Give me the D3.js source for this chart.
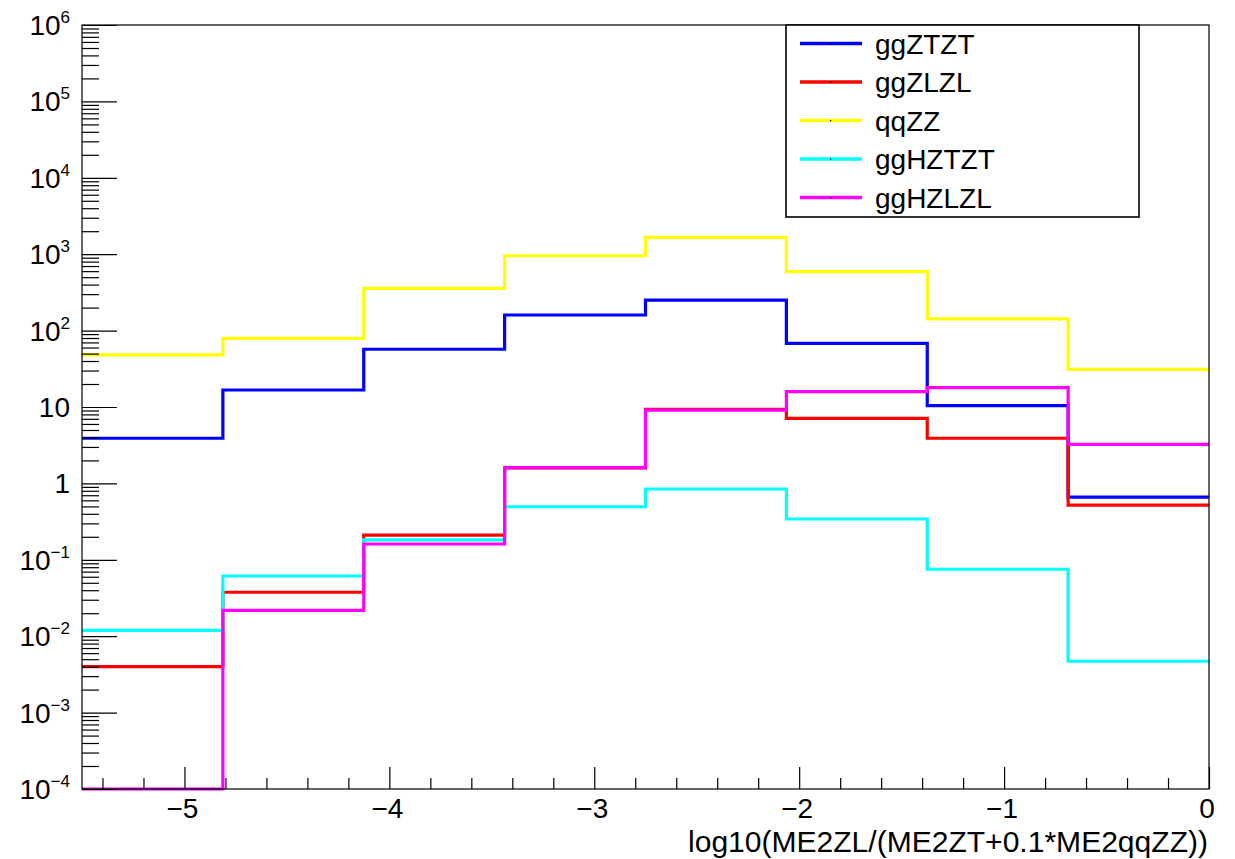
<!DOCTYPE html>
<html>
<head>
<meta charset="utf-8">
<script src="https://cdn.jsdelivr.net/npm/d3@7"></script>
<style>
  html, body { margin: 0; padding: 0; background: #fff; }
  svg { display: block; font-family: "Liberation Sans", Arial, Helvetica, sans-serif; }
</style>
</head>
<body>
<svg id="chart" width="1235" height="859"></svg>
<script>
// Bin edges of the log10(ME2ZL/(ME2ZT+0.1*ME2qqZZ)) histogram
const binEdges = [-5.5, -4.8125, -4.125, -3.4375, -2.75, -2.0625, -1.375, -0.6875, 0];

// Bin contents per sample (events per bin)
const ggZTZT  = [3.9, 16.7, 57, 160, 250, 68, 10.4, 0.66];
const ggZLZL  = [0.0040, 0.0376, 0.211, 1.59, 9.3, 7.1, 3.9, 0.52];
const qqZZ    = [48, 79, 358, 955, 1660, 590, 142, 31];
const ggHZTZT = [0.0119, 0.0614, 0.182, 0.495, 0.845, 0.342, 0.0752, 0.0047];
const ggHZLZL = [0, 0.0218, 0.161, 1.61, 9.1, 15.9, 17.9, 3.25];

const seriesNames  = ["ggZTZT", "ggZLZL", "qqZZ", "ggHZTZT", "ggHZLZL"];
const seriesValues = [ggZTZT, ggZLZL, qqZZ, ggHZTZT, ggHZLZL];
const seriesColors = ["#0000ff", "#ff0000", "#ffff00", "#00ffff", "#ff00ff"];

// Axis ticks and labels
const xMajorTicks  = [-5, -4, -3, -2, -1, 0];
const xTickLabels  = ["\u22125", "\u22124", "\u22123", "\u22122", "\u22121", "0"];
const yMajorTicks  = [1e-4, 1e-3, 1e-2, 1e-1, 1, 10, 1e2, 1e3, 1e4, 1e5, 1e6];
const yTickBase    = ["10", "10", "10", "10", "1", "10", "10", "10", "10", "10", "10"];
const yTickExp     = ["\u22124", "\u22123", "\u22122", "\u22121", "", "", "2", "3", "4", "5", "6"];
const xTitle = "log10(ME2ZL/(ME2ZT+0.1*ME2qqZZ))";

const frame = { left: 82, right: 1209, top: 25, bottom: 789 };
const yMin = 1e-4, yMax = 1e6;

const svg = d3.select("#chart");
svg.append("rect").attr("width", 1235).attr("height", 859).attr("fill", "#fff");

const x = d3.scaleLinear().domain([binEdges[0], binEdges[binEdges.length - 1]])
  .range([frame.left, frame.right]);
const y = d3.scaleLog().domain([yMin, yMax]).range([frame.bottom, frame.top]);

// Histogram outlines (step lines); empty or underflowing bins sit on the frame floor
const stepLine = d3.line()
  .x(d => x(d.edge))
  .y(d => y(Math.max(d.value, yMin)))
  .curve(d3.curveStepAfter);

const plot = svg.append("g");
seriesValues.forEach((vals, i) => {
  const pts = binEdges.map((e, k) => ({ edge: e, value: vals[Math.min(k, vals.length - 1)] }));
  plot.append("path")
    .attr("d", stepLine(pts))
    .attr("fill", "none")
    .attr("stroke", seriesColors[i])
    .attr("stroke-width", 3.2)
    .attr("stroke-linejoin", "miter");
});

// Frame
svg.append("rect")
  .attr("x", frame.left).attr("y", frame.top)
  .attr("width", frame.right - frame.left).attr("height", frame.bottom - frame.top)
  .attr("fill", "none").attr("stroke", "#000").attr("stroke-width", 1.2);

// Y axis: log ticks pointing into the frame
const yMinor = [];
for (let p = -4; p < 6; p++) for (let m = 2; m <= 9; m++) yMinor.push(m * Math.pow(10, p));

const yAxisMinor = d3.axisRight(y).tickValues(yMinor).tickSize(17).tickFormat("");
const yAxisMajor = d3.axisRight(y).tickValues(yMajorTicks).tickSize(35).tickFormat("");
[yAxisMinor, yAxisMajor].forEach(ax => {
  const g = svg.append("g").attr("transform", `translate(${frame.left},0)`).call(ax);
  g.select(".domain").remove();
  g.selectAll("line").attr("stroke", "#000").attr("stroke-width", 1.2);
});

// Y tick labels with superscript exponents
const yLab = svg.append("g").attr("fill", "#000");
yMajorTicks.forEach((v, i) => {
  const t = yLab.append("text")
    .attr("x", 70).attr("y", y(v) + 10)
    .attr("text-anchor", "end")
    .attr("font-size", 28);
  t.append("tspan").text(yTickBase[i]);
  if (yTickExp[i]) {
    t.append("tspan").attr("dy", -12).attr("font-size", 17).text(yTickExp[i]);
  }
});

// X axis: ticks pointing up from the bottom of the frame
const xMinor = d3.range(-54, 1, 2).map(d => d / 10).filter(d => !xMajorTicks.includes(d));
const xAxisMinor = d3.axisTop(x).tickValues(xMinor).tickSize(11).tickFormat("");
const xAxisMajor = d3.axisTop(x).tickValues(xMajorTicks).tickSize(22).tickFormat("");
[xAxisMinor, xAxisMajor].forEach(ax => {
  const g = svg.append("g").attr("transform", `translate(0,${frame.bottom})`).call(ax);
  g.select(".domain").remove();
  g.selectAll("line").attr("stroke", "#000").attr("stroke-width", 1.2);
});

svg.append("g").selectAll("text").data(xMajorTicks).join("text")
  .attr("x", d => x(d) - 2)
  .attr("y", 818)
  .attr("text-anchor", "middle")
  .attr("font-size", 28)
  .attr("fill", "#000")
  .text((d, i) => xTickLabels[i]);

svg.append("text")
  .attr("x", 1208).attr("y", 852)
  .attr("text-anchor", "end")
  .attr("font-size", 29)
  .attr("textLength", 520)
  .attr("lengthAdjust", "spacingAndGlyphs")
  .attr("fill", "#000")
  .text(xTitle);

// Legend
const legend = svg.append("g");
legend.append("rect")
  .attr("x", 786).attr("y", 25).attr("width", 353).attr("height", 192)
  .attr("fill", "#fff").attr("stroke", "#000").attr("stroke-width", 1.6);

seriesNames.forEach((name, i) => {
  const cy = 43.5 + i * 38.5;
  legend.append("line")
    .attr("x1", 800).attr("x2", 862).attr("y1", cy).attr("y2", cy)
    .attr("stroke", seriesColors[i]).attr("stroke-width", 3.5);
  legend.append("rect")
    .attr("x", 830).attr("y", cy - 0.5).attr("width", 1.2).attr("height", 1.2)
    .attr("fill", "#000");
  legend.append("text")
    .attr("x", 875).attr("y", cy + 10)
    .attr("font-size", 28)
    .attr("fill", "#000")
    .text(name);
});
</script>
</body>
</html>
